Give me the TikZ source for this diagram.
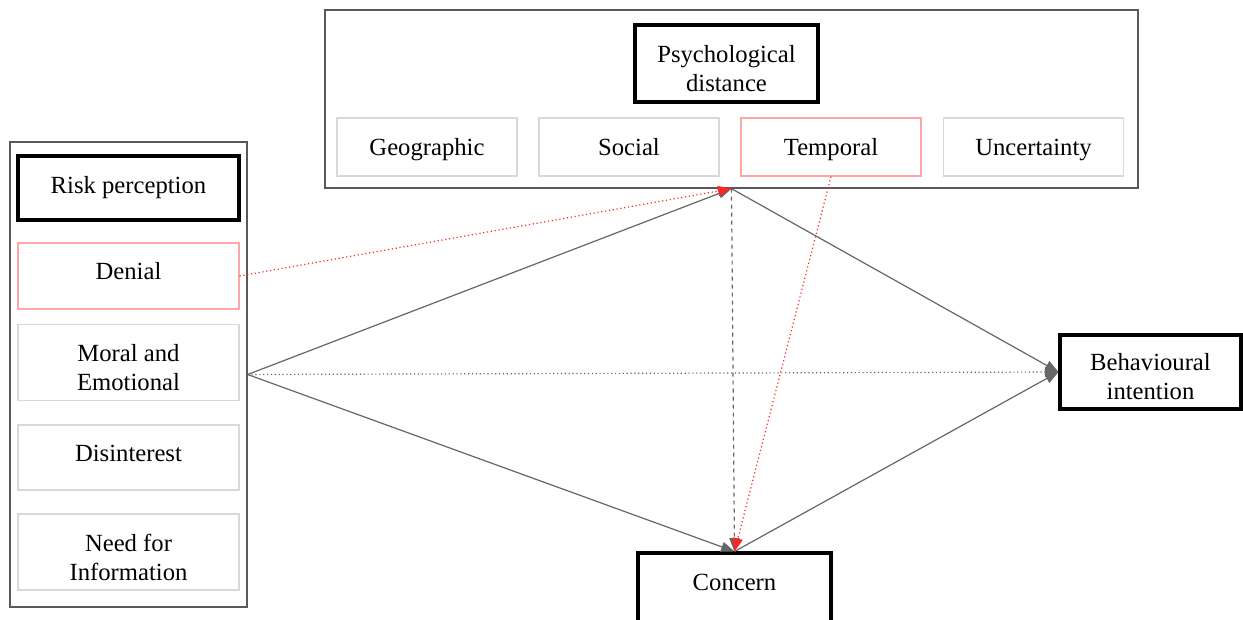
\documentclass[tikz,border=0pt]{standalone}
\usepackage{fontspec}
\setmainfont{Liberation Serif}
\usetikzlibrary{arrows.meta}

\tikzset{
  outerbox/.style={draw=black!65, line width=1pt, inner sep=0pt},
  headbox/.style={draw=black, line width=2.3pt, inner sep=0pt},
  itembox/.style={draw=black!15, line width=0.8pt, inner sep=0pt},
  redbox/.style={itembox, draw=red!35},
  boxtext/.style={anchor=north, inner sep=0pt, align=center},
  link/.style={draw=black!60, line width=0.9pt, -{Triangle[length=10pt,width=7.5pt]}},
  redlink/.style={draw=red!85, line width=0.9pt, dotted, -{Triangle[length=10pt,width=7.5pt]}}
}

\begin{document}
\begin{tikzpicture}[x=0.75pt, y=-0.75pt, font=\fontsize{18.5}{21.75}\selectfont]

\useasboundingbox (0,0) rectangle (1243,619);

% Risk perception column
\node[outerbox, minimum width=177.75pt, minimum height=348.75pt] (riskbox) at (128.5,374.5) {};
\node[headbox, minimum width=165.75pt, minimum height=48pt] (riskhead) at (128.5,188) {};
\node[redbox, minimum width=165.75pt, minimum height=49.5pt] (denial) at (128.5,276) {};
\node[itembox, minimum width=165.75pt, minimum height=57pt] (moral) at (128.5,362.5) {};
\node[itembox, minimum width=165.75pt, minimum height=48.75pt] (disint) at (128.5,457.5) {};
\node[itembox, minimum width=165.75pt, minimum height=57pt] (needinfo) at (128.5,552) {};

\node[boxtext] (riskhead-t) at ([yshift=-16.5pt]riskhead.north) {Risk perception};
\node[boxtext] (denial-t) at ([yshift=-15pt]denial.north) {Denial};
\node[boxtext] (moral-t) at ([yshift=-15pt]moral.north) {Moral and\\Emotional};
\node[boxtext] (disint-t) at ([yshift=-15pt]disint.north) {Disinterest};
\node[boxtext] (needinfo-t) at ([yshift=-15pt]needinfo.north) {Need for\\Information};

% Psychological distance row
\node[outerbox, minimum width=609.75pt, minimum height=133.5pt] (distbox) at (731.5,99) {};
\node[headbox, minimum width=137.25pt, minimum height=57.75pt] (psych) at (726.5,63.5) {};
\node[itembox, minimum width=135pt, minimum height=43.5pt] (geo) at (427,147) {};
\node[itembox, minimum width=135pt, minimum height=43.5pt] (social) at (629,147) {};
\node[redbox, minimum width=135pt, minimum height=43.5pt] (temporal) at (831,147) {};
\node[itembox, minimum width=135pt, minimum height=43.5pt] (uncert) at (1033.5,147) {};

\node[boxtext] (psych-t) at ([yshift=-16.5pt]psych.north) {Psychological\\distance};
\node[boxtext] (geo-t) at ([yshift=-15.75pt]geo.north) {Geographic};
\node[boxtext] (social-t) at ([yshift=-15.75pt]social.north) {Social};
\node[boxtext] (temporal-t) at ([yshift=-15.75pt]temporal.north) {Temporal};
\node[boxtext] (uncert-t) at ([yshift=-15.75pt]uncert.north) {Uncertainty};

% Outcomes
\node[headbox, minimum width=135.75pt, minimum height=55.5pt] (behav) at (1150.5,372) {};
\node[headbox, minimum width=144.75pt, minimum height=54pt] (concern) at (734.5,589) {};

\node[boxtext] (behav-t) at ([yshift=-15pt]behav.north) {Behavioural\\intention};
\node[boxtext] (concern-t) at ([yshift=-16.5pt]concern.north) {Concern};

% Paths
\draw[link] (riskbox.east) -- (distbox.south);
\draw[link] (riskbox.east) -- (concern.north);
\draw[link, dotted] (riskbox.east) -- (behav.west);
\draw[link] (distbox.south) -- (behav.west);
\draw[link] (concern.north) -- (behav.west);
\draw[link, dashed] (distbox.south) -- (concern.north);
\draw[redlink] (denial.east) -- (distbox.south);
\draw[redlink] (temporal.south) -- (concern.north);

\end{tikzpicture}
\end{document}
